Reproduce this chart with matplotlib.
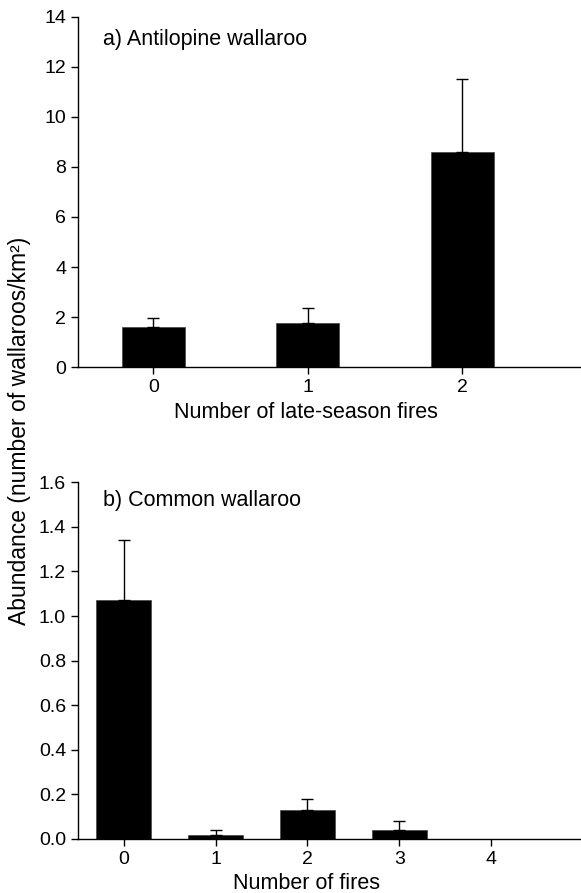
import numpy as np
import matplotlib
matplotlib.use('Agg')
import matplotlib.pyplot as plt

plt.rcParams['font.family'] = ['Liberation Sans', 'DejaVu Sans']

# Panel a data
late_fires = [0, 1, 2]
antilopine_mean = [1.6, 1.78, 8.6]
antilopine_err = [0.35, 0.57, 2.9]

# Panel b data
fires = [0, 1, 2, 3, 4]
common_mean = [1.07, 0.02, 0.13, 0.04, 0.0]
common_err = [0.27, 0.02, 0.05, 0.04, 0.0]

fig = plt.figure(figsize=(5.81, 8.93), dpi=100)
ax1 = fig.add_axes([0.134, 0.589, 0.866, 0.392])
ax2 = fig.add_axes([0.134, 0.0605, 0.866, 0.3995])


def style(ax):
    for s in ['top', 'right']:
        ax.spines[s].set_visible(False)
    ax.spines['left'].set_linewidth(1.0)
    ax.spines['bottom'].set_linewidth(1.0)
    ax.tick_params(direction='out', length=5, width=1.0, labelsize=14)


# a) Antilopine wallaroo
ax1.bar(late_fires, antilopine_mean, width=0.41, color='black', edgecolor='#444444', linewidth=0.5)
ax1.errorbar(late_fires, antilopine_mean, yerr=[np.zeros(3), antilopine_err], fmt='none',
             ecolor='black', elinewidth=1.0, capsize=4, capthick=1.0)
ax1.set_xlim(-0.49, 2.77)
ax1.set_ylim(0, 14)
ax1.set_yticks(range(0, 15, 2))
ax1.set_xticks(late_fires)
ax1.set_xlabel('Number of late-season fires', fontsize=15.5)
ax1.xaxis.set_label_coords(0.453, -0.1)
ax1.text(-0.33, 13.1, 'a) Antilopine wallaroo', fontsize=15.5, va='center')
style(ax1)

# b) Common wallaroo
ax2.bar(fires, common_mean, width=0.6, color='black', edgecolor='#444444', linewidth=0.5)
ax2.errorbar(fires[:4], common_mean[:4], yerr=[np.zeros(4), common_err[:4]], fmt='none',
             ecolor='black', elinewidth=1.0, capsize=4, capthick=1.0)
ax2.set_xlim(-0.5, 4.98)
ax2.set_ylim(0, 1.6)
ax2.set_yticks(np.arange(0, 1.61, 0.2))
ax2.set_yticklabels([f'{v:.1f}' for v in np.arange(0, 1.61, 0.2)])
ax2.set_xticks(fires)
ax2.set_xlabel('Number of fires', fontsize=15.5)
ax2.xaxis.set_label_coords(0.454, -0.095)
ax2.text(-0.23, 1.52, 'b) Common wallaroo', fontsize=15.5, va='center')
style(ax2)

fig.text(0.034, 0.518, 'Abundance (number of wallaroos/km²)', rotation=90,
         fontsize=16.5, ha='center', va='center')

fig.savefig('out.png', dpi=100)
